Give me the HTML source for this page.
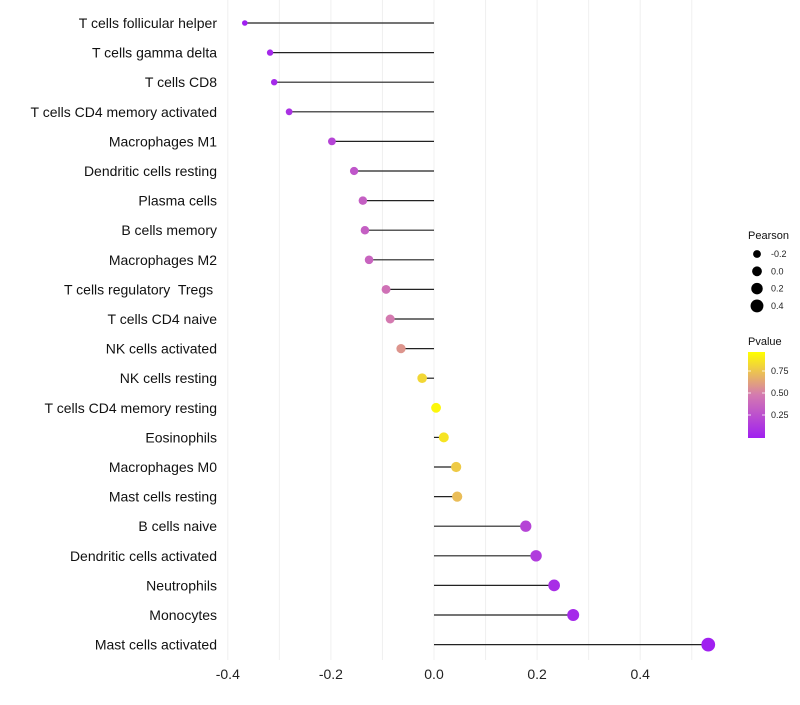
<!DOCTYPE html>
<html><head><meta charset="utf-8"><style>
body{margin:0;background:#fff;font-family:"Liberation Sans",sans-serif;}
text{white-space:pre;}
</style></head><body>
<svg id="c" width="800" height="700"></svg>
<script>
const categories=["T cells follicular helper","T cells gamma delta","T cells CD8","T cells CD4 memory activated","Macrophages M1","Dendritic cells resting","Plasma cells","B cells memory","Macrophages M2","T cells regulatory  Tregs ","T cells CD4 naive","NK cells activated","NK cells resting","T cells CD4 memory resting","Eosinophils","Macrophages M0","Mast cells resting","B cells naive","Dendritic cells activated","Neutrophils","Monocytes","Mast cells activated"];
const pearson=[-0.367,-0.318,-0.310,-0.281,-0.198,-0.155,-0.138,-0.134,-0.126,-0.093,-0.085,-0.064,-0.023,0.004,0.019,0.043,0.045,0.178,0.198,0.233,0.270,0.532];
const pvalue=[0.0,0.05,0.05,0.1,0.2,0.3,0.35,0.35,0.38,0.45,0.5,0.6,0.85,0.97,0.9,0.8,0.75,0.2,0.15,0.08,0.05,0.0];
const xTicks=[-0.4,-0.2,0,0.2,0.4];
const xMinor=[-0.3,-0.1,0.1,0.3,0.5];
const sizeLegend=[-0.2,0,0.2,0.4];
const colorTicks=[0.25,0.5,0.75];
const NS="http://www.w3.org/2000/svg",svg=document.getElementById('c');
const x=v=>434+v*515.5, y=i=>23+i*29.6, r=v=>Math.sqrt(Math.max(3,24+44*v));
function col(p){const a=[160,32,240],m=[212,122,176],b=[255,255,0];let c0,c1,t;if(p<0.5){c0=a;c1=m;t=p/0.5}else{c0=m;c1=b;t=(p-0.5)/0.5}return`rgb(${c0.map((v,k)=>Math.round(v+(c1[k]-v)*t)).join(',')})`;}
function el(t,at,txt){const e=document.createElementNS(NS,t);for(const k in at)e.setAttribute(k,at[k]);if(txt!=null)e.textContent=txt;svg.appendChild(e);return e;}
xMinor.concat(xTicks).forEach(v=>{const g=el('line',{x1:x(v),x2:x(v),y1:0,y2:660,stroke:'#f0f0f0','stroke-width':1});

});
xTicks.forEach(v=>{const t=el('text',{x:x(v),y:679,'font-size':14,'text-anchor':'middle',fill:'#222'},v===0?'0.0':v.toFixed(1));

});
categories.forEach((c,i)=>{
const t=el('text',{x:217,y:y(i)+5,'font-size':14,'text-anchor':'end',fill:'#111'},c);


const l=el('line',{x1:x(0),x2:x(pearson[i]),y1:y(i),y2:y(i),stroke:'#222','stroke-width':1.2});


const d=el('circle',{cx:x(pearson[i]),cy:y(i),r:r(pearson[i]),fill:col(pvalue[i])});


});
let t=el('text',{x:748,y:239,'font-size':11,fill:'#111'},'Pearson');


sizeLegend.forEach((v,i)=>{const cy=254+i*17.3;
const c=el('circle',{cx:757,cy:cy,r:r(v),fill:'#000'});


const tt=el('text',{x:771,y:cy+3,'font-size':9,fill:'#222'},v===0?'0.0':v.toFixed(1));

});
t=el('text',{x:748,y:345,'font-size':11,fill:'#111'},'Pvalue');


const defs=el('defs',{});const g=document.createElementNS(NS,'linearGradient');g.setAttribute('id','gr');g.setAttribute('x1',0);g.setAttribute('y1',1);g.setAttribute('x2',0);g.setAttribute('y2',0);defs.appendChild(g);
[0,0.25,0.5,0.75,1].forEach(p=>{const s=document.createElementNS(NS,'stop');s.setAttribute('offset',p);s.setAttribute('stop-color',col(p));g.appendChild(s);});
const bar=el('rect',{x:748,y:352,width:17,height:86,fill:'url(#gr)'});


colorTicks.forEach(v=>{const cy=437-v*88;
el('line',{x1:748,x2:751,y1:cy,y2:cy,stroke:'#fff','stroke-width':0.8});el('line',{x1:762,x2:765,y1:cy,y2:cy,stroke:'#fff','stroke-width':0.8});
const tt=el('text',{x:771,y:cy+3,'font-size':9,fill:'#222'},v.toFixed(2));

});
</script>
</body></html>
